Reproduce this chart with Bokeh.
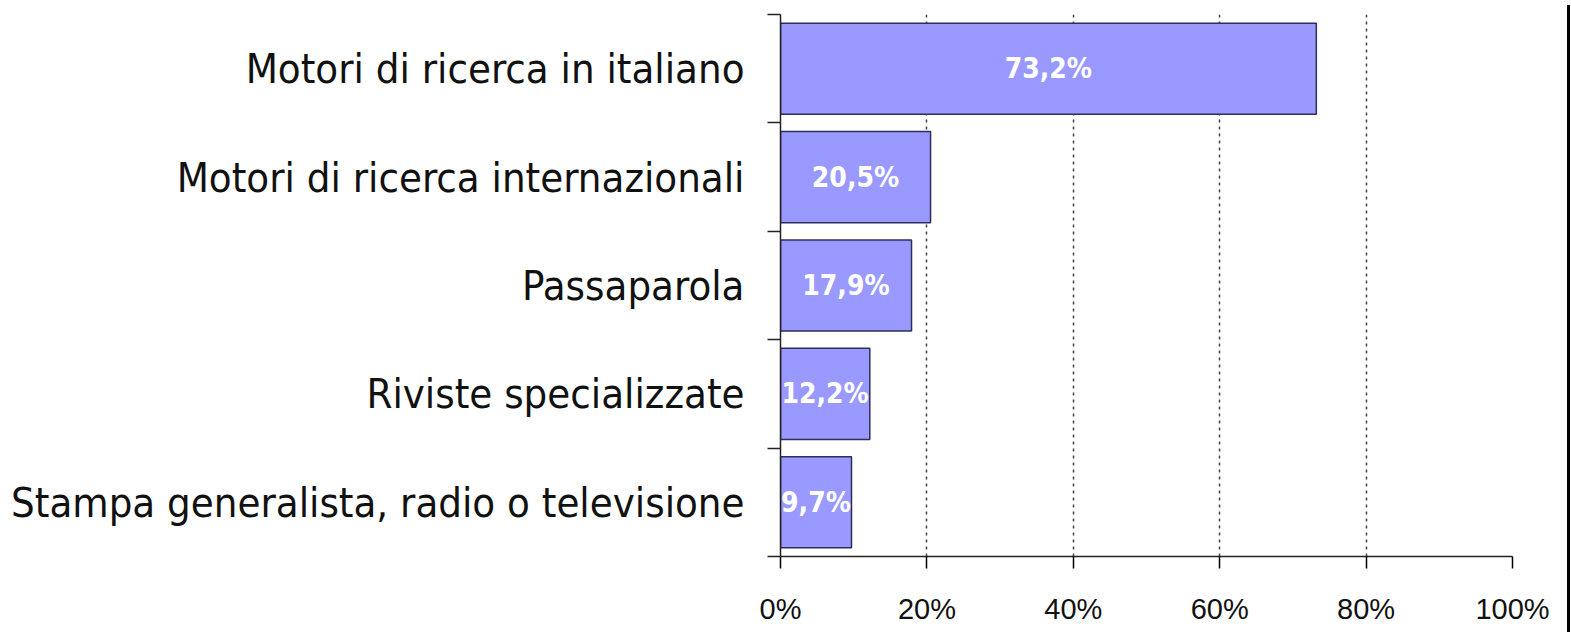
from bokeh.plotting import figure
from bokeh.models import Range1d, FixedTicker, ColumnDataSource, LinearAxis, Div
from bokeh.layouts import row
from bokeh.core.properties import value
from bokeh.embed import file_html
from bokeh.resources import INLINE

categories = ["Motori di ricerca in italiano", "Motori di ricerca internazionali", "Passaparola",
              "Riviste specializzate", "Stampa generalista, radio o televisione"]
values = [73.2, 20.5, 17.9, 12.2, 9.7]
x_ticks = [0, 20, 40, 60, 80, 100]
x_tick_labels = ["0%", "20%", "40%", "60%", "80%", "100%"]

n = len(categories)
ypos = [n - 0.5 - i for i in range(n)]
labels = [f"{v:.1f}".replace(".", ",") + "%" for v in values]
src = ColumnDataSource(dict(y=ypos, v=values, half=[v / 2 for v in values], lab=labels))

W, H = 1562, 627
p = figure(width=W, height=H, output_backend="svg", toolbar_location=None,
           x_range=Range1d(0, 100), y_range=Range1d(0, n),
           x_axis_location=None, y_axis_location=None,
           min_border_left=780, min_border_right=W - 1512, min_border_top=14, min_border_bottom=H - 557)
p.outline_line_color = None
p.background_fill_color = "white"
p.border_fill_color = "white"

p.hbar(y="y", right="v", left=0, height=0.84, source=src, fill_color="#9999FF",
       line_color="#2E2E5C", line_width=1.5)
p.text(x="half", y="y", text="lab", source=src, text_color="white", text_align="center",
       text_baseline="middle", text_font=value("DejaVu Sans Condensed"), text_font_style="bold",
       text_font_size="28px")

xax = LinearAxis(ticker=FixedTicker(ticks=x_ticks),
                 major_label_overrides={t: l for t, l in zip(x_ticks, x_tick_labels)})
xax.axis_line_color = "#222222"
xax.axis_line_width = 1.5
xax.major_tick_out = 12
xax.major_tick_in = 0
xax.major_tick_line_width = 1.5
xax.minor_tick_line_color = None
xax.major_label_text_font = "Liberation Sans"
xax.major_label_text_font_size = "29px"
xax.major_label_text_color = "#111111"
xax.major_label_standoff = 24
p.add_layout(xax, "below")

yax = LinearAxis(ticker=FixedTicker(ticks=ypos, minor_ticks=list(range(n + 1))),
                 major_label_overrides={y: c for y, c in zip(ypos, categories)})
yax.axis_line_color = "#222222"
yax.axis_line_width = 1.5
yax.major_tick_out = 0
yax.major_tick_in = 0
yax.major_tick_line_color = None
yax.minor_tick_out = 13
yax.minor_tick_in = 0
yax.minor_tick_line_color = "#222222"
yax.minor_tick_line_width = 1.5
yax.major_label_text_font = "DejaVu Sans Condensed"
yax.major_label_text_font_size = "41.5px"
yax.major_label_text_color = "#111111"
yax.major_label_standoff = 23
p.add_layout(yax, "left")

p.xgrid.ticker = FixedTicker(ticks=x_ticks[1:])
p.xgrid.grid_line_color = "#444444"
p.xgrid.grid_line_dash = "3 4"
p.xgrid.grid_line_width = 1.5
p.ygrid.grid_line_color = None

edge = Div(width=3, height=H, styles={"background-color": "#000000"})
layout = row(p, edge, spacing=0)

open("out.html", "w").write(file_html(layout, INLINE))
